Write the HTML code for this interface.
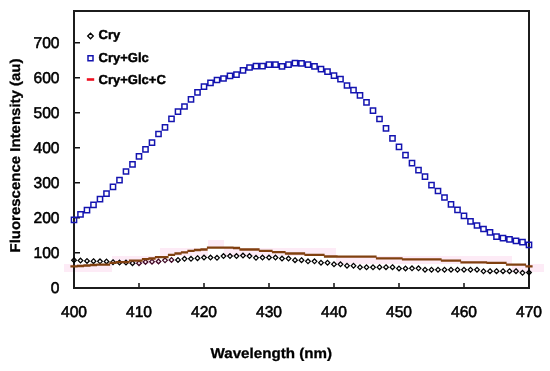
<!DOCTYPE html>
<html><head><meta charset="utf-8"><style>
html,body{margin:0;padding:0;background:#fff;}
body{width:550px;height:371px;overflow:hidden;font-family:"Liberation Sans",sans-serif;}
svg{display:block;filter:blur(0.35px);}
</style></head><body>
<svg width="550" height="371" viewBox="0 0 550 371" text-rendering="geometricPrecision">
<g fill="#fdebf6"><rect x="64" y="264" width="16" height="8"/><rect x="80" y="264" width="16" height="8"/><rect x="96" y="264" width="16" height="8"/><rect x="112" y="256" width="16" height="8"/><rect x="128" y="256" width="16" height="8"/><rect x="144" y="256" width="16" height="8"/><rect x="160" y="248" width="16" height="8"/><rect x="176" y="248" width="16" height="8"/><rect x="192" y="248" width="16" height="8"/><rect x="208" y="240" width="16" height="8"/><rect x="224" y="248" width="16" height="8"/><rect x="240" y="248" width="16" height="8"/><rect x="256" y="248" width="16" height="8"/><rect x="272" y="248" width="16" height="8"/><rect x="288" y="248" width="16" height="8"/><rect x="304" y="248" width="16" height="8"/><rect x="320" y="248" width="16" height="8"/><rect x="336" y="256" width="16" height="8"/><rect x="352" y="256" width="16" height="8"/><rect x="368" y="256" width="16" height="8"/><rect x="384" y="256" width="16" height="8"/><rect x="400" y="256" width="16" height="8"/><rect x="416" y="256" width="16" height="8"/><rect x="432" y="256" width="16" height="8"/><rect x="448" y="256" width="16" height="8"/><rect x="464" y="256" width="16" height="8"/><rect x="480" y="256" width="16" height="8"/><rect x="496" y="256" width="16" height="8"/><rect x="512" y="264" width="16" height="8"/><rect x="528" y="264" width="16" height="8"/></g>
<rect x="74" y="11" width="455" height="277" fill="none" stroke="#1c1c1c" stroke-width="2"/>
<path d="M75 252.7H80M75 217.7H80M75 182.7H80M75 147.7H80M75 112.7H80M75 77.7H80M75 42.7H80M139.0 287V283M204.0 287V283M269.0 287V283M334.0 287V283M399.0 287V283M464.0 287V283" stroke="#111" stroke-width="1.5" fill="none"/>
<path d="M74.0 257.8l2.35 2.35l-2.35 2.35l-2.35 -2.35zM80.5 258.2l2.35 2.35l-2.35 2.35l-2.35 -2.35zM87.0 258.6l2.35 2.35l-2.35 2.35l-2.35 -2.35zM93.5 258.8l2.35 2.35l-2.35 2.35l-2.35 -2.35zM100.0 259.0l2.35 2.35l-2.35 2.35l-2.35 -2.35zM106.5 259.1l2.35 2.35l-2.35 2.35l-2.35 -2.35zM113.0 259.8l2.35 2.35l-2.35 2.35l-2.35 -2.35zM119.5 260.2l2.35 2.35l-2.35 2.35l-2.35 -2.35zM126.0 260.2l2.35 2.35l-2.35 2.35l-2.35 -2.35zM132.5 260.8l2.35 2.35l-2.35 2.35l-2.35 -2.35zM178.0 257.6l2.35 2.35l-2.35 2.35l-2.35 -2.35zM184.5 256.5l2.35 2.35l-2.35 2.35l-2.35 -2.35zM191.0 256.5l2.35 2.35l-2.35 2.35l-2.35 -2.35zM197.5 255.8l2.35 2.35l-2.35 2.35l-2.35 -2.35zM204.0 255.2l2.35 2.35l-2.35 2.35l-2.35 -2.35zM210.5 255.2l2.35 2.35l-2.35 2.35l-2.35 -2.35zM217.0 255.5l2.35 2.35l-2.35 2.35l-2.35 -2.35zM223.5 253.7l2.35 2.35l-2.35 2.35l-2.35 -2.35zM230.0 253.7l2.35 2.35l-2.35 2.35l-2.35 -2.35zM236.5 253.7l2.35 2.35l-2.35 2.35l-2.35 -2.35zM243.0 253.2l2.35 2.35l-2.35 2.35l-2.35 -2.35zM249.5 253.7l2.35 2.35l-2.35 2.35l-2.35 -2.35zM256.0 255.5l2.35 2.35l-2.35 2.35l-2.35 -2.35zM262.5 255.2l2.35 2.35l-2.35 2.35l-2.35 -2.35zM269.0 255.2l2.35 2.35l-2.35 2.35l-2.35 -2.35zM275.5 255.2l2.35 2.35l-2.35 2.35l-2.35 -2.35zM282.0 256.2l2.35 2.35l-2.35 2.35l-2.35 -2.35zM288.5 256.2l2.35 2.35l-2.35 2.35l-2.35 -2.35zM295.0 257.8l2.35 2.35l-2.35 2.35l-2.35 -2.35zM301.5 257.8l2.35 2.35l-2.35 2.35l-2.35 -2.35zM308.0 259.0l2.35 2.35l-2.35 2.35l-2.35 -2.35zM314.5 259.0l2.35 2.35l-2.35 2.35l-2.35 -2.35zM321.0 260.4l2.35 2.35l-2.35 2.35l-2.35 -2.35zM327.5 260.4l2.35 2.35l-2.35 2.35l-2.35 -2.35zM334.0 261.9l2.35 2.35l-2.35 2.35l-2.35 -2.35zM340.5 261.9l2.35 2.35l-2.35 2.35l-2.35 -2.35zM347.0 263.4l2.35 2.35l-2.35 2.35l-2.35 -2.35zM353.5 263.4l2.35 2.35l-2.35 2.35l-2.35 -2.35zM360.0 264.9l2.35 2.35l-2.35 2.35l-2.35 -2.35zM366.5 264.9l2.35 2.35l-2.35 2.35l-2.35 -2.35zM373.0 264.9l2.35 2.35l-2.35 2.35l-2.35 -2.35zM379.5 264.8l2.35 2.35l-2.35 2.35l-2.35 -2.35zM386.0 264.8l2.35 2.35l-2.35 2.35l-2.35 -2.35zM392.5 264.8l2.35 2.35l-2.35 2.35l-2.35 -2.35zM399.0 266.1l2.35 2.35l-2.35 2.35l-2.35 -2.35zM405.5 266.1l2.35 2.35l-2.35 2.35l-2.35 -2.35zM412.0 266.0l2.35 2.35l-2.35 2.35l-2.35 -2.35zM418.5 266.0l2.35 2.35l-2.35 2.35l-2.35 -2.35zM425.0 267.4l2.35 2.35l-2.35 2.35l-2.35 -2.35zM431.5 267.4l2.35 2.35l-2.35 2.35l-2.35 -2.35zM438.0 267.4l2.35 2.35l-2.35 2.35l-2.35 -2.35zM444.5 267.4l2.35 2.35l-2.35 2.35l-2.35 -2.35zM451.0 267.4l2.35 2.35l-2.35 2.35l-2.35 -2.35zM457.5 267.4l2.35 2.35l-2.35 2.35l-2.35 -2.35zM464.0 267.4l2.35 2.35l-2.35 2.35l-2.35 -2.35zM470.5 267.4l2.35 2.35l-2.35 2.35l-2.35 -2.35zM477.0 267.4l2.35 2.35l-2.35 2.35l-2.35 -2.35zM483.5 268.9l2.35 2.35l-2.35 2.35l-2.35 -2.35zM490.0 268.8l2.35 2.35l-2.35 2.35l-2.35 -2.35zM496.5 268.8l2.35 2.35l-2.35 2.35l-2.35 -2.35zM503.0 268.8l2.35 2.35l-2.35 2.35l-2.35 -2.35zM509.5 268.8l2.35 2.35l-2.35 2.35l-2.35 -2.35zM516.0 268.8l2.35 2.35l-2.35 2.35l-2.35 -2.35zM522.5 270.5l2.35 2.35l-2.35 2.35l-2.35 -2.35zM529.0 270.1l2.35 2.35l-2.35 2.35l-2.35 -2.35z" stroke="#000" stroke-width="1.25" fill="none"/>
<path d="M139.0 260.8l2.35 2.35l-2.35 2.35l-2.35 -2.35zM145.5 259.6l2.35 2.35l-2.35 2.35l-2.35 -2.35zM152.0 259.4l2.35 2.35l-2.35 2.35l-2.35 -2.35zM158.5 259.1l2.35 2.35l-2.35 2.35l-2.35 -2.35zM165.0 258.0l2.35 2.35l-2.35 2.35l-2.35 -2.35zM171.5 257.6l2.35 2.35l-2.35 2.35l-2.35 -2.35z" stroke="#3c0622" stroke-width="1.25" fill="none"/>
<path d="M70.4 266.3h7.2M76.9 266.0h7.2M83.4 265.5h7.2M89.9 265.0h7.2M96.4 264.7h7.2M102.9 264.7h7.2M109.4 262.8h7.2M115.9 262.1h7.2M122.4 262.1h7.2M128.9 260.7h7.2M135.4 260.7h7.2M141.9 259.1h7.2M148.4 258.5h7.2M154.9 257.1h7.2M161.4 257.1h7.2M167.9 254.9h7.2M174.4 253.5h7.2M180.9 252.4h7.2M187.4 250.9h7.2M193.9 250.0h7.2M200.4 249.5h7.2M206.9 247.6h7.2M213.4 247.6h7.2M219.9 247.6h7.2M226.4 247.6h7.2M232.9 248.0h7.2M239.4 249.5h7.2M245.9 249.5h7.2M252.4 249.5h7.2M258.9 250.9h7.2M265.4 250.9h7.2M271.9 252.1h7.2M278.4 252.1h7.2M284.9 253.5h7.2M291.4 253.5h7.2M297.9 253.5h7.2M304.4 254.8h7.2M310.9 254.8h7.2M317.4 254.8h7.2M323.9 256.5h7.2M330.4 256.5h7.2M336.9 256.6h7.2M343.4 256.6h7.2M349.9 256.6h7.2M356.4 256.6h7.2M362.9 256.6h7.2M369.4 256.6h7.2M375.9 258.3h7.2M382.4 258.3h7.2M388.9 258.3h7.2M395.4 258.3h7.2M401.9 259.4h7.2M408.4 259.4h7.2M414.9 259.4h7.2M421.4 259.4h7.2M427.9 259.4h7.2M434.4 259.4h7.2M440.9 260.7h7.2M447.4 260.7h7.2M453.9 260.7h7.2M460.4 262.4h7.2M466.9 262.4h7.2M473.4 262.4h7.2M479.9 262.4h7.2M486.4 262.9h7.2M492.9 262.9h7.2M499.4 262.9h7.2M505.9 264.7h7.2M512.4 264.7h7.2M518.9 264.7h7.2M525.4 266.4h7.2" stroke="#80400f" stroke-width="2.3" fill="none"/>
<path d="M71.4 217.2h5.2v5.2h-5.2zM77.9 211.7h5.2v5.2h-5.2zM84.4 207.5h5.2v5.2h-5.2zM90.9 202.2h5.2v5.2h-5.2zM97.4 196.6h5.2v5.2h-5.2zM103.9 191.1h5.2v5.2h-5.2zM110.4 184.3h5.2v5.2h-5.2zM116.9 177.5h5.2v5.2h-5.2zM123.4 168.9h5.2v5.2h-5.2zM129.9 161.8h5.2v5.2h-5.2zM136.4 153.8h5.2v5.2h-5.2zM142.9 146.7h5.2v5.2h-5.2zM149.4 140.0h5.2v5.2h-5.2zM155.9 131.4h5.2v5.2h-5.2zM162.4 124.7h5.2v5.2h-5.2zM168.9 116.2h5.2v5.2h-5.2zM175.4 109.1h5.2v5.2h-5.2zM181.9 103.9h5.2v5.2h-5.2zM188.4 96.8h5.2v5.2h-5.2zM194.9 89.7h5.2v5.2h-5.2zM201.4 84.1h5.2v5.2h-5.2zM207.9 80.3h5.2v5.2h-5.2zM214.4 77.4h5.2v5.2h-5.2zM220.9 75.9h5.2v5.2h-5.2zM227.4 73.2h5.2v5.2h-5.2zM233.9 72.1h5.2v5.2h-5.2zM240.4 67.7h5.2v5.2h-5.2zM246.9 64.9h5.2v5.2h-5.2zM253.4 63.5h5.2v5.2h-5.2zM259.9 63.5h5.2v5.2h-5.2zM266.4 62.1h5.2v5.2h-5.2zM272.9 62.1h5.2v5.2h-5.2zM279.4 63.8h5.2v5.2h-5.2zM285.9 62.1h5.2v5.2h-5.2zM292.4 60.6h5.2v5.2h-5.2zM298.9 60.7h5.2v5.2h-5.2zM305.4 62.0h5.2v5.2h-5.2zM311.9 63.7h5.2v5.2h-5.2zM318.4 66.6h5.2v5.2h-5.2zM324.9 69.1h5.2v5.2h-5.2zM331.4 73.0h5.2v5.2h-5.2zM337.9 76.6h5.2v5.2h-5.2zM344.4 82.9h5.2v5.2h-5.2zM350.9 87.6h5.2v5.2h-5.2zM357.4 92.8h5.2v5.2h-5.2zM363.9 99.8h5.2v5.2h-5.2zM370.4 108.0h5.2v5.2h-5.2zM376.9 116.4h5.2v5.2h-5.2zM383.4 125.8h5.2v5.2h-5.2zM389.9 135.8h5.2v5.2h-5.2zM396.4 144.2h5.2v5.2h-5.2zM402.9 152.5h5.2v5.2h-5.2zM409.4 160.5h5.2v5.2h-5.2zM415.9 167.6h5.2v5.2h-5.2zM422.4 174.0h5.2v5.2h-5.2zM428.9 182.5h5.2v5.2h-5.2zM435.4 188.4h5.2v5.2h-5.2zM441.9 194.9h5.2v5.2h-5.2zM448.4 201.8h5.2v5.2h-5.2zM454.9 207.2h5.2v5.2h-5.2zM461.4 213.3h5.2v5.2h-5.2zM467.9 218.8h5.2v5.2h-5.2zM474.4 222.9h5.2v5.2h-5.2zM480.9 226.4h5.2v5.2h-5.2zM487.4 229.8h5.2v5.2h-5.2zM493.9 234.1h5.2v5.2h-5.2zM500.4 235.5h5.2v5.2h-5.2zM506.9 236.7h5.2v5.2h-5.2zM513.4 238.3h5.2v5.2h-5.2zM519.9 239.5h5.2v5.2h-5.2zM526.4 242.3h5.2v5.2h-5.2z" stroke="#1414b0" stroke-width="1.5" fill="none"/>
<g font-family="Liberation Sans" font-size="15.6" fill="#000" stroke="#000" stroke-width="0.55"><text x="59.5" y="293.2" text-anchor="end">0</text><text x="59.5" y="258.2" text-anchor="end">100</text><text x="59.5" y="223.2" text-anchor="end">200</text><text x="59.5" y="188.2" text-anchor="end">300</text><text x="59.5" y="153.2" text-anchor="end">400</text><text x="59.5" y="118.2" text-anchor="end">500</text><text x="59.5" y="83.2" text-anchor="end">600</text><text x="59.5" y="48.2" text-anchor="end">700</text><text x="74.0" y="317.4" text-anchor="middle">400</text><text x="139.0" y="317.4" text-anchor="middle">410</text><text x="204.0" y="317.4" text-anchor="middle">420</text><text x="269.0" y="317.4" text-anchor="middle">430</text><text x="334.0" y="317.4" text-anchor="middle">440</text><text x="399.0" y="317.4" text-anchor="middle">450</text><text x="464.0" y="317.4" text-anchor="middle">460</text><text x="529.0" y="317.4" text-anchor="middle">470</text></g>
<text x="210.5" y="357.8" font-family="Liberation Sans" font-weight="bold" font-size="14.2" fill="#000" stroke="#000" stroke-width="0.3" textLength="121.5" lengthAdjust="spacingAndGlyphs">Wavelength (nm)</text>
<text transform="translate(19.8 252.5) rotate(-90)" font-family="Liberation Sans" font-weight="bold" font-size="14.2" fill="#000" stroke="#000" stroke-width="0.3" textLength="194" lengthAdjust="spacingAndGlyphs">Fluorescence Intensity (au)</text>
<path d="M90.5 33.2l2.8 2.8l-2.8 2.8l-2.8 -2.8z" stroke="#000" stroke-width="1.3" fill="none"/>
<path d="M88 55.7h5v5h-5z" stroke="#1414b0" stroke-width="1.5" fill="none"/>
<path d="M86.8 79.5h7.4" stroke="#ee1020" stroke-width="2.6"/>
<g font-family="Liberation Sans" font-weight="bold" font-size="13" fill="#000" stroke="#000" stroke-width="0.45"><text x="98.6" y="39">Cry</text><text x="98.6" y="61.5">Cry+Glc</text><text x="98.6" y="83.5">Cry+Glc+C</text></g>
</svg>
</body></html>
